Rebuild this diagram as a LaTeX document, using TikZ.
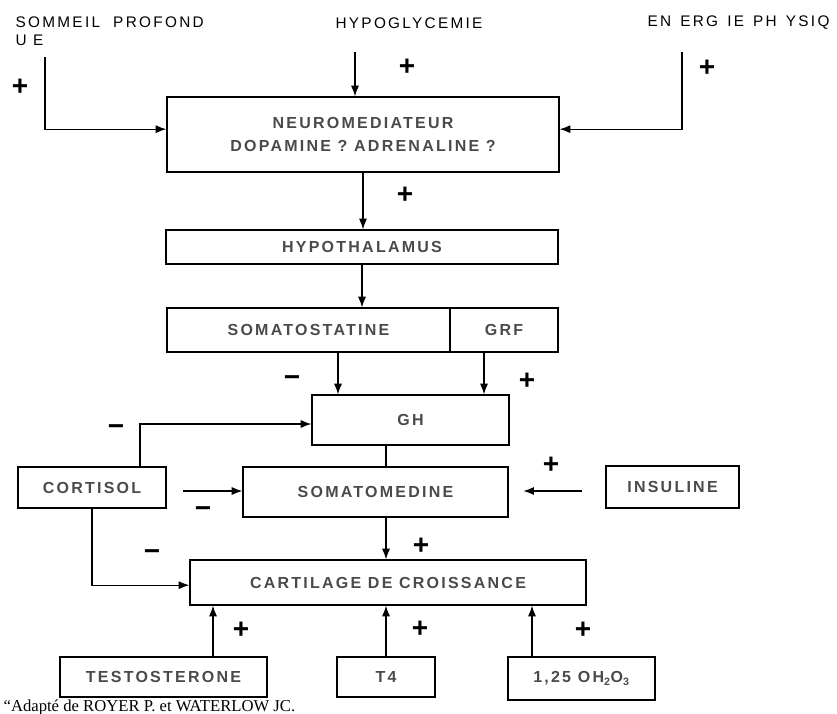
\documentclass[tikz,border=0pt]{standalone}
\usepackage{fontspec}
\usetikzlibrary{arrows.meta}
\setmainfont{Liberation Sans}
\newfontfamily\boxfont{Liberation Sans Bold}[LetterSpace=14]
\newfontfamily\topfont{Liberation Sans}[LetterSpace=15]
\newfontfamily\signfont{Liberation Sans Bold}
\newfontfamily\notefont{Liberation Serif}
\definecolor{inkgrey}{HTML}{4A4A4A}
\begin{document}
\begin{tikzpicture}[x=0.75pt, y=-0.75pt, line width=0.9pt,
    box/.style={draw, inner sep=0pt, align=center, text=inkgrey,
      font=\boxfont\fontsize{12}{17}\selectfont},
    lbl/.style={anchor=west, inner sep=0pt, align=left,
      font=\topfont\fontsize{11.5}{13.5}\selectfont},
    sign/.style={inner sep=0pt, font=\signfont\fontsize{21}{21}\selectfont},
    arr/.style={-{Latex[length=8pt,width=6pt]}}]
    \useasboundingbox (0,0) rectangle (837,713);

    % inputs
    \node[lbl] (sommeil) at (15,31.5) {SOMMEIL\ \ PROFOND\\U E};
    \node[lbl] (hypogly) at (335,23) {HYPOGLYCEMIE};
    \node[lbl] (energie) at (647,23) {EN\ \,ERG\ \,IE\ \,PH\ \,YSIQ};

    % boxes
    \node[box, minimum width=294pt, minimum height=56.25pt] (neuro) at (363,134.5)
        {NEUROMEDIATEUR\\DOPAMINE ? ADRENALINE ?};
    \node[box, minimum width=294pt, minimum height=25.5pt] (hypo) at (362,247) {HYPOTHALAMUS};
    \node[box, minimum width=212.25pt, minimum height=33pt] (somato) at (308.5,330) {SOMATOSTATINE};
    \node[box, minimum width=81pt, minimum height=33pt] (grf) at (504,330) {GRF};
    \node[box, minimum width=147.75pt, minimum height=37.5pt] (gh) at (410.5,420) {GH};
    \node[box, minimum width=111pt, minimum height=30.75pt] (cortisol) at (92,487.5) {CORTISOL};
    \node[box, minimum width=198.75pt, minimum height=37.5pt] (somed) at (375.5,492) {SOMATOMEDINE};
    \node[box, minimum width=99.75pt, minimum height=31.5pt] (insuline) at (672.5,487) {INSULINE};
    \node[box, minimum width=297pt, minimum height=33.75pt] (cartilage) at (388,582.5) {CARTILAGE DE CROISSANCE};
    \node[box, minimum width=155.25pt, minimum height=30pt] (testo) at (163.5,677) {TESTOSTERONE};
    \node[box, minimum width=73.5pt, minimum height=30pt] (t4) at (386,677) {T4};
    \node[box, minimum width=110.25pt, minimum height=32.25pt] (vitd) at (581.5,678.5)
        {1,25 OH\textsubscript{2}O\textsubscript{3}};

    % free ends
    \coordinate (sommeilend) at (45,57);
    \coordinate (hypoglyend) at (355,52);
    \coordinate (energieend) at (682,52);
    \coordinate (cortend) at (183,491);
    \coordinate (insend) at (582,491);

    % connectors
    \draw[arr] (sommeilend) |- ([yshift=4pt]neuro.west);
    \draw[arr] (hypoglyend) -- (hypoglyend |- neuro.north);
    \draw[arr] (energieend) |- ([yshift=4pt]neuro.east);
    \draw[arr] (neuro.south) -- (neuro.south |- hypo.north);
    \draw[arr] (hypo.south) -- (hypo.south |- somato.north);
    \draw[arr] (somato.south -| 338,0) -- (gh.north -| 338,0);
    \draw[arr] (grf.south -| 484,0) -- (gh.north -| 484,0);
    \draw[arr] (cortisol.north -| 140,0) |- ([yshift=-3pt]gh.west);
    \draw (gh.south -| 386,0) -- (somed.north -| 386,0);
    \draw[arr] (cortend) -- (cortend -| somed.west);
    \draw[arr] (insend) -- ([xshift=11pt]insend -| somed.east);
    \draw[arr] (somed.south -| 386,0) -- (cartilage.north -| 386,0);
    \draw[arr] (cortisol.south) |- ([yshift=-2pt]cartilage.west);
    \draw[arr] (testo.north -| 213,0) -- (cartilage.south -| 213,0);
    \draw[arr] (t4.north) -- (t4.north |- cartilage.south);
    \draw[arr] (vitd.north -| 532,0) -- (cartilage.south -| 532,0);

    % signs
    \node[sign] (p1) at (20,87) {+};
    \node[sign] (p2) at (407,67) {+};
    \node[sign] (p3) at (707,68) {+};
    \node[sign] (p4) at (405,195) {+};
    \node[sign] (m1) at (292,381) {\textminus};
    \node[sign] (p5) at (527,381) {+};
    \node[sign] (m2) at (116,430) {\textminus};
    \node[sign] (p6) at (551,465) {+};
    \node[sign] (m3) at (203,512) {\textminus};
    \node[sign] (m4) at (152,555) {\textminus};
    \node[sign] (p7) at (421,546) {+};
    \node[sign] (p8) at (241,630) {+};
    \node[sign] (p9) at (420,629) {+};
    \node[sign] (p10) at (583,630) {+};

    \node[anchor=base west, inner sep=0pt, font=\notefont\fontsize{12.5}{12.5}\selectfont] (note) at (3,711)
        {\textquotedblleft Adapté de ROYER P. et WATERLOW JC.};
\end{tikzpicture}
\end{document}
